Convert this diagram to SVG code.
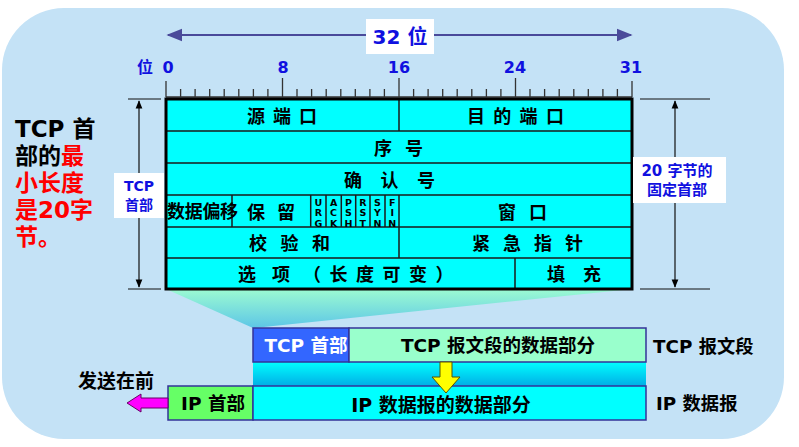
<svg xmlns="http://www.w3.org/2000/svg" width="799" height="447" viewBox="0 0 799 447">
<defs>
<style>
text{font-family:"DejaVu Sans","Noto Sans CJK SC",sans-serif;font-weight:bold}
.t{font-size:18px;fill:#000}
.f{font-size:9.5px;fill:#000;font-family:"DejaVu Sans",sans-serif;writing-mode:vertical-rl;text-orientation:upright;letter-spacing:-0.6px}
.blue{fill:#1010E0}
.cell{fill:none;stroke:#1a1a1a;stroke-width:1.5}
.tick{stroke:#333;stroke-width:1.3}
.dim{stroke:#111;stroke-width:1.2}
</style>
<linearGradient id="trap" x1="0" y1="0" x2="0" y2="1">
<stop offset="0" stop-color="#9CFBD2"/>
<stop offset="1" stop-color="#5DC6E6"/>
</linearGradient>
<linearGradient id="band" x1="0" y1="0" x2="0" y2="1">
<stop offset="0" stop-color="#00FFFF"/>
<stop offset="1" stop-color="#00AEE6"/>
</linearGradient>
<marker id="ab" viewBox="0 0 10 10" refX="9" refY="5" markerWidth="8" markerHeight="8" orient="auto-start-reverse">
<path d="M0,1 L10,5 L0,9 Z" fill="#4A4A9A"/>
</marker>
<marker id="ak" viewBox="0 0 10 10" refX="9" refY="5" markerWidth="7" markerHeight="7" orient="auto-start-reverse">
<path d="M0,1 L10,5 L0,9 Z" fill="#000"/>
</marker>
</defs>
<rect x="0" y="0" width="799" height="447" fill="#fff"/>
<rect id="bg" x="2" y="8" width="782" height="431" rx="62" ry="62" fill="#C4E2F6"/>

<g id="ruler">
<line x1="168" y1="35" x2="631" y2="35" stroke="#4A4A9A" stroke-width="2" marker-start="url(#ab)" marker-end="url(#ab)"/>
<rect x="366" y="19" width="68" height="35" fill="#fff"/>
<text x="400" y="44" font-size="20" class="blue" text-anchor="middle">32 位</text>
<text x="145" y="73" font-size="16" class="blue" text-anchor="middle">位</text>
<text x="168" y="73" font-size="16" class="blue" text-anchor="middle">0</text>
<text x="283" y="73" font-size="16" class="blue" text-anchor="middle">8</text>
<text x="399" y="73" font-size="16" class="blue" text-anchor="middle">16</text>
<text x="515" y="73" font-size="16" class="blue" text-anchor="middle">24</text>
<text x="631" y="73" font-size="16" class="blue" text-anchor="middle">31</text>
<path class="tick" fill="none" d="M166,97 H632 M166,81 V97 M632,81 V97 M282.5,78 V97 M399,78 V97 M515.5,78 V97
M180.6,89V97 M195.1,89V97 M209.7,89V97 M224.2,89V97 M238.8,89V97 M253.4,89V97 M267.9,89V97
M297,89V97 M311.6,89V97 M326.2,89V97 M340.8,89V97 M355.3,89V97 M369.9,89V97 M384.4,89V97
M413.6,89V97 M428.1,89V97 M442.7,89V97 M457.2,89V97 M471.8,89V97 M486.4,89V97 M500.9,89V97
M530,89V97 M544.6,89V97 M559.2,89V97 M573.8,89V97 M588.3,89V97 M602.9,89V97 M617.4,89V97"/>
</g>

<g id="leftnote">
<text x="15" y="137" font-size="23" fill="#000">TCP 首</text>
<text x="15" y="164" font-size="23"><tspan fill="#000">部的</tspan><tspan fill="#FF0000">最</tspan></text>
<text x="15" y="191" font-size="23" fill="#FF0000">小长度</text>
<text x="15" y="218" font-size="23" fill="#FF0000">是20字</text>
<text x="15" y="245" font-size="23" fill="#FF0000">节。</text>
</g>

<g id="trapezoid">
<polygon points="166,289 633,289 253,328" fill="url(#trap)"/>
</g>

<g id="table">
<rect x="166" y="99" width="466" height="190" fill="#00FFFF"/>
<path class="cell" d="M166,131H632 M166,163H632 M166,195H632 M166,227H632 M166,258H632
M399,99V131 M399,195V258 M232,195V227 M310.7,195V227 M326,195V227 M341.3,195V227 M355.7,195V227 M370,195V227 M385,195V227 M515,258V289"/>
<rect x="166" y="99" width="466" height="190" fill="none" stroke="#000" stroke-width="3"/>
<text class="t" x="247" y="123" letter-spacing="8">源端口</text>
<text class="t" x="467" y="123" letter-spacing="8.3">目的端口</text>
<text class="t" x="374" y="155" letter-spacing="13">序号</text>
<text class="t" x="344" y="187" letter-spacing="18.5">确认号</text>
<text class="t" x="167" y="218" font-size="16" letter-spacing="-0.3">数据偏移</text>
<text class="t" x="247" y="219" letter-spacing="12">保留</text>
<text class="t" x="498" y="219" letter-spacing="13">窗口</text>
<text class="t" x="249" y="250" letter-spacing="13.5">校验和</text>
<text class="t" x="472" y="250" letter-spacing="13">紧急指针</text>
<text class="t" x="238" y="281" letter-spacing="16">选项</text>
<text class="t" x="303" y="281" letter-spacing="8.5">（长度可变）</text>
<text class="t" x="547" y="281" letter-spacing="18">填充</text>
<text class="f" x="318.3" y="197">URG</text>
<text class="f" x="333.6" y="197">ACK</text>
<text class="f" x="348.5" y="197">PSH</text>
<text class="f" x="362.8" y="197">RST</text>
<text class="f" x="377.5" y="197">SYN</text>
<text class="f" x="392.2" y="197">FIN</text>
</g>

<g id="dims">
<path class="dim" d="M128,99H161 M128,289H161 M640,99H710 M640,289H710"/>
<line class="dim" x1="139" y1="101" x2="139" y2="287" marker-start="url(#ak)" marker-end="url(#ak)"/>
<line class="dim" x1="675" y1="101" x2="675" y2="287" marker-start="url(#ak)" marker-end="url(#ak)"/>
<rect x="114" y="173" width="50" height="45" fill="#fff"/>
<text x="139" y="191" font-size="14" class="blue" text-anchor="middle">TCP</text>
<text x="139" y="210" font-size="14" class="blue" text-anchor="middle">首部</text>
<rect x="633" y="157" width="93" height="46" fill="#fff"/>
<text x="677" y="176" font-size="15" class="blue" text-anchor="middle">20 字节的</text>
<text x="677" y="195" font-size="15" class="blue" text-anchor="middle">固定首部</text>
</g>

<g id="band">
<rect x="253" y="362" width="393" height="24" fill="url(#band)"/>
</g>

<g id="tcpseg">
<rect x="253" y="328" width="96" height="34" fill="#3366FF" stroke="#333399" stroke-width="1.5"/>
<text x="306" y="352" font-size="18.5" fill="#fff" text-anchor="middle">TCP 首部</text>
<rect x="349" y="328" width="297" height="34" fill="#99FFCC" stroke="#333399" stroke-width="1.5"/>
<text x="498" y="352" font-size="18.5" fill="#000" text-anchor="middle">TCP 报文段的数据部分</text>
<text x="653" y="353" font-size="18.3" fill="#000">TCP 报文段</text>
</g>

<g id="ipdg">
<rect x="168" y="386" width="85" height="34" fill="#66FF66" stroke="#333399" stroke-width="1.5"/>
<text x="213" y="410" font-size="18.5" fill="#000" text-anchor="middle">IP 首部</text>
<rect x="253" y="386" width="393" height="34" fill="#00FFFF" stroke="#333399" stroke-width="1.5"/>
<text x="441" y="412" font-size="19" fill="#000" text-anchor="middle">IP 数据报的数据部分</text>
<text x="656" y="410" font-size="18.3" fill="#000">IP 数据报</text>
</g>

<g id="connectors">
<polygon points="440,362 452,362 452,377 460,377 446,393 432,377 440,377" fill="#FFFF00" stroke="#555500" stroke-width="1"/>
<polygon points="168,398 141,398 141,394 127,403 141,412 141,408 168,408" fill="#FF00FF" stroke="#660066" stroke-width="1"/>
<text x="78" y="388" font-size="19" fill="#000">发送在前</text>
</g>
</svg>
